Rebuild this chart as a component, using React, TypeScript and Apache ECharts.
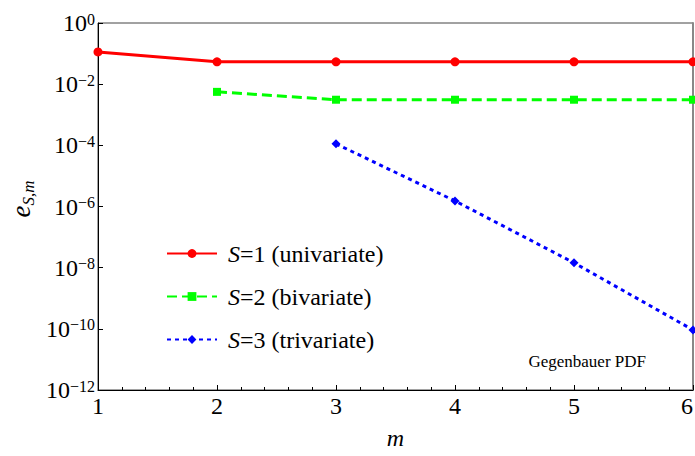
import React, { useEffect, useRef } from "react";
import * as echarts from "echarts";

const SERIF = "Liberation Serif";

// m values and errors e_{S,m} for each S
const S1_M = [1, 2, 3, 4, 5, 6];
const S1_E = [0.113, 0.0537, 0.0537, 0.0537, 0.0537, 0.0537];
const S2_M = [2, 3, 4, 5, 6];
const S2_E = [0.0056, 0.0031, 0.0031, 0.0031, 0.0031];
const S3_M = [3, 4, 5, 6];
const S3_E = [1.12e-4, 1.52e-6, 1.44e-8, 9.2e-11];

const SERIES_NAMES = ["S=1 (univariate)", "S=2 (bivariate)", "S=3 (trivariate)"];
const X_MIN = 1;
const X_MAX = 6;
const Y_MIN = 1e-12;
const Y_MAX = 1;

export default function App() {
  const ref = useRef<HTMLDivElement>(null);
  useEffect(() => {
    if (!ref.current) return;
    const chart = echarts.init(ref.current, undefined, { renderer: "svg" });
    const pair = (ms: number[], es: number[]) => ms.map((m, i) => [m, es[i]]);
    const option: any = {
      animation: false,
      backgroundColor: "#fff",
      textStyle: { fontFamily: SERIF },
      grid: {
        left: 98,
        right: 2,
        top: 23,
        bottom: 66,
        containLabel: false,
        outerBoundsMode: "none",
        show: true,
        borderColor: "#444",
        borderWidth: 1,
        backgroundColor: "transparent",
      },
      legend: {
        orient: "vertical",
        left: 166,
        top: 240,
        padding: 0,
        itemWidth: 50,
        itemHeight: 11,
        itemGap: 16,
        data: SERIES_NAMES,
        formatter: (name: string) => "{i|S}" + name.slice(1),
        textStyle: {
          fontSize: 24,
          lineHeight: 27,
          fontFamily: SERIF,
          color: "#000",
          padding: [0, 0, 0, 6],
          rich: {
            i: { fontStyle: "italic", fontSize: 24, fontFamily: SERIF, color: "#000" },
          },
        },
      },
      xAxis: {
        type: "value",
        min: X_MIN,
        max: X_MAX,
        interval: 1,
        name: "m",
        nameLocation: "middle",
        nameGap: 36,
        nameTextStyle: { fontStyle: "italic", fontSize: 24, fontFamily: SERIF, color: "#000" },
        axisLine: { onZero: false, lineStyle: { color: "#000", width: 1 } },
        axisTick: { inside: true, length: 5, lineStyle: { color: "#000" } },
        minorTick: { show: true, splitNumber: 5, length: 3, lineStyle: { color: "#000" } },
        splitLine: { show: false },
        axisLabel: { fontSize: 24, fontFamily: SERIF, color: "#000", margin: 4, alignMaxLabel: "right" },
      },
      yAxis: [
        {
          type: "log",
          logBase: 10,
          min: Y_MIN,
          max: Y_MAX,
          interval: 2,
          axisLine: { show: true, onZero: false, lineStyle: { color: "#000", width: 1 } },
          axisTick: { show: true, inside: true, length: 5, lineStyle: { color: "#000" } },
          splitLine: { show: false },
          axisLabel: {
            margin: 3,
            color: "#000",
            formatter: (v: number) => {
              const e = Math.round(Math.log10(v));
              return "{b|10}{s|" + (e === 0 ? "0" : "\u2212" + -e) + "}";
            },
            rich: {
              b: { fontSize: 24, lineHeight: 24, fontFamily: SERIF, color: "#000" },
              s: { fontSize: 16, lineHeight: 14, fontFamily: SERIF, color: "#000", verticalAlign: "top" },
            },
          },
        },
        {
          type: "log",
          logBase: 10,
          min: Y_MIN,
          max: Y_MAX,
          interval: 2,
          position: "right",
          axisLine: { show: true, onZero: false, lineStyle: { color: "#888", width: 2 } },
          axisTick: { show: false },
          axisLabel: { show: false },
          splitLine: { show: false },
        },
      ],
      graphic: [
        {
          type: "text",
          x: 22,
          y: 199,
          rotation: Math.PI / 2,
          style: {
            text: "{e|e}{s|S,m}",
            align: "center",
            verticalAlign: "middle",
            rich: {
              e: { fontSize: 27, lineHeight: 30, fontStyle: "italic", fontFamily: SERIF, fill: "#000", verticalAlign: "top" },
              s: { fontSize: 17, lineHeight: 18, fontStyle: "italic", fontFamily: SERIF, fill: "#000", verticalAlign: "bottom" },
            },
          },
        },
        {
          type: "text",
          x: 646,
          y: 361,
          style: {
            text: "Gegenbauer PDF",
            align: "right",
            verticalAlign: "middle",
            fontSize: 17,
            fontFamily: SERIF,
            fill: "#000",
          },
        },
      ],
      series: [
        {
          name: SERIES_NAMES[0],
          type: "line",
          data: pair(S1_M, S1_E),
          symbol: "circle",
          symbolSize: 9,
          itemStyle: { color: "#ff0000" },
          lineStyle: { color: "#ff0000", width: 3, type: "solid" },
          clip: true,
        },
        {
          name: SERIES_NAMES[1],
          type: "line",
          data: pair(S2_M, S2_E),
          symbol: "rect",
          symbolSize: 8,
          itemStyle: { color: "#00ff00" },
          lineStyle: { color: "#00ff00", width: 3, type: [10, 5] },
          clip: true,
        },
        {
          name: SERIES_NAMES[2],
          type: "line",
          data: pair(S3_M, S3_E),
          symbol: "diamond",
          symbolSize: 9,
          itemStyle: { color: "#0000ff" },
          lineStyle: { color: "#0000ff", width: 3, type: [4, 4] },
          clip: true,
        },
      ],
    };
    chart.setOption(option);
    return () => chart.dispose();
  }, []);
  return (
    <div
      ref={ref}
      style={{ position: "fixed", left: 0, top: 0, width: 695, height: 456, background: "#fff" }}
    />
  );
}
